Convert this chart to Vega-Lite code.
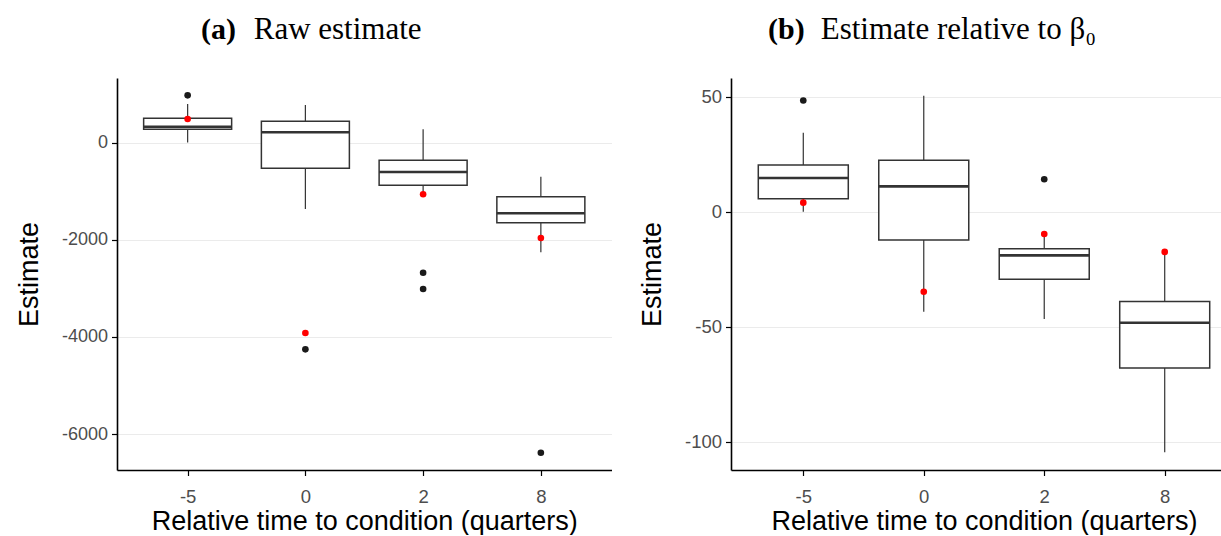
{
  "$schema": "https://vega.github.io/schema/vega-lite/v6.json",
  "background": "white",
  "padding": {"left": 15, "top": 14, "right": 0, "bottom": 0},
  "spacing": 26,
  "datasets": {
    "rawBox": [
      {"time": "-5", "lower": 0, "q1": 272, "median": 325, "q3": 498, "upper": 792},
      {"time": "0", "lower": -1369, "q1": -531, "median": 210, "q3": 436, "upper": 772},
      {"time": "2", "lower": -1039, "q1": -881, "median": -607, "q3": -366, "upper": 272},
      {"time": "8", "lower": -2260, "q1": -1651, "median": -1457, "q3": -1116, "upper": -704}
    ],
    "rawPts": [
      {"time": "-5", "kind": "outlier", "value": 971},
      {"time": "0", "kind": "outlier", "value": -4257},
      {"time": "2", "kind": "outlier", "value": -2680},
      {"time": "2", "kind": "outlier", "value": -3015},
      {"time": "8", "kind": "outlier", "value": -6385},
      {"time": "-5", "kind": "estimate", "value": 484},
      {"time": "0", "kind": "estimate", "value": -3921},
      {"time": "2", "kind": "estimate", "value": -1066},
      {"time": "8", "kind": "estimate", "value": -1965}
    ],
    "relBox": [
      {"time": "-5", "lower": 0, "q1": 5.65, "median": 14.65, "q3": 20.3, "upper": 34.3},
      {"time": "0", "lower": -43.5, "q1": -12.3, "median": 11.0, "q3": 22.3, "upper": 50.4},
      {"time": "2", "lower": -46.7, "q1": -29.4, "median": -19.0, "q3": -16.1, "upper": -10.5},
      {"time": "8", "lower": -104.6, "q1": -68.0, "median": -48.3, "q3": -39.0, "upper": -17.5}
    ],
    "relPts": [
      {"time": "-5", "kind": "outlier", "value": 48.3},
      {"time": "2", "kind": "outlier", "value": 14.1},
      {"time": "-5", "kind": "estimate", "value": 3.9},
      {"time": "0", "kind": "estimate", "value": -34.8},
      {"time": "2", "kind": "estimate", "value": -9.7},
      {"time": "8", "kind": "estimate", "value": -17.5}
    ]
  },
  "hconcat": [
    {
      "width": 494.5,
      "height": 392,
      "title": {
        "text": "(a)",
        "subtitle": "\u200b\u2003\u2002\u2009Raw estimate",
        "anchor": "start",
        "frame": "group",
        "dx": 84,
        "offset": 32,
        "font": "Liberation Serif",
        "fontSize": 30,
        "fontWeight": "bold",
        "color": "black",
        "subtitleFont": "Liberation Serif",
        "subtitleFontSize": 31,
        "subtitleFontWeight": "normal",
        "subtitleColor": "black",
        "subtitlePadding": -30
      },
      "layer": [
        {
          "data": {"name": "rawBox"},
          "mark": {"type": "rule", "color": "#333333", "strokeWidth": 1.2},
          "encoding": {
            "x": {"field": "time", "type": "ordinal", "sort": ["-5", "0", "2", "8"], "scale": {"type": "point", "padding": 0.6}, "title": "Relative time to condition (quarters)"},
            "y": {"field": "lower", "type": "quantitative", "scale": {"domain": [-6741, 1328], "nice": false, "zero": false}, "axis": {"values": [-6000, -4000, -2000, 0], "labelExpr": "toString(datum.value)", "labelFontSize": 18}, "title": "Estimate"},
            "y2": {"field": "upper"}
          }
        },
        {
          "data": {"name": "rawBox"},
          "mark": {"type": "bar", "size": 88, "fill": "white", "stroke": "#333333", "strokeWidth": 1.5},
          "encoding": {
            "x": {"field": "time", "type": "ordinal", "sort": ["-5", "0", "2", "8"], "title": "Relative time to condition (quarters)"},
            "y": {"field": "q1", "type": "quantitative", "title": "Estimate"},
            "y2": {"field": "q3"}
          }
        },
        {
          "data": {"name": "rawBox"},
          "mark": {"type": "tick", "size": 88, "thickness": 2.6, "color": "#333333", "opacity": 1},
          "encoding": {
            "x": {"field": "time", "type": "ordinal", "sort": ["-5", "0", "2", "8"], "title": "Relative time to condition (quarters)"},
            "y": {"field": "median", "type": "quantitative", "title": "Estimate"}
          }
        },
        {
          "data": {"name": "rawPts"},
          "mark": {"type": "circle", "size": 44, "opacity": 1},
          "encoding": {
            "x": {"field": "time", "type": "ordinal", "sort": ["-5", "0", "2", "8"], "title": "Relative time to condition (quarters)"},
            "y": {"field": "value", "type": "quantitative", "title": "Estimate"},
            "color": {"field": "kind", "type": "nominal", "scale": {"domain": ["outlier", "estimate"], "range": ["#1A1A1A", "#FF0000"]}, "legend": null}
          }
        }
      ]
    },
    {
      "width": 506,
      "height": 392,
      "title": {
        "text": "(b)",
        "subtitle": "\u200b\u2003\u2002\u2009Estimate relative to \u03b2\u2080",
        "anchor": "start",
        "frame": "group",
        "dx": 37,
        "offset": 32,
        "font": "Liberation Serif",
        "fontSize": 30,
        "fontWeight": "bold",
        "color": "black",
        "subtitleFont": "Liberation Serif",
        "subtitleFontSize": 31,
        "subtitleFontWeight": "normal",
        "subtitleColor": "black",
        "subtitlePadding": -30
      },
      "layer": [
        {
          "data": {"name": "relBox"},
          "mark": {"type": "rule", "color": "#333333", "strokeWidth": 1.2},
          "encoding": {
            "x": {"field": "time", "type": "ordinal", "sort": ["-5", "0", "2", "8"], "scale": {"type": "point", "padding": 0.6}, "title": "Relative time to condition (quarters)"},
            "y": {"field": "lower", "type": "quantitative", "scale": {"domain": [-112.3, 58.1], "nice": false, "zero": false}, "axis": {"values": [-100, -50, 0, 50], "labelExpr": "toString(datum.value)", "labelFontSize": 18.5}, "title": "Estimate"},
            "y2": {"field": "upper"}
          }
        },
        {
          "data": {"name": "relBox"},
          "mark": {"type": "bar", "size": 90, "fill": "white", "stroke": "#333333", "strokeWidth": 1.5},
          "encoding": {
            "x": {"field": "time", "type": "ordinal", "sort": ["-5", "0", "2", "8"], "title": "Relative time to condition (quarters)"},
            "y": {"field": "q1", "type": "quantitative", "title": "Estimate"},
            "y2": {"field": "q3"}
          }
        },
        {
          "data": {"name": "relBox"},
          "mark": {"type": "tick", "size": 90, "thickness": 2.6, "color": "#333333", "opacity": 1},
          "encoding": {
            "x": {"field": "time", "type": "ordinal", "sort": ["-5", "0", "2", "8"], "title": "Relative time to condition (quarters)"},
            "y": {"field": "median", "type": "quantitative", "title": "Estimate"}
          }
        },
        {
          "data": {"name": "relPts"},
          "mark": {"type": "circle", "size": 44, "opacity": 1},
          "encoding": {
            "x": {"field": "time", "type": "ordinal", "sort": ["-5", "0", "2", "8"], "title": "Relative time to condition (quarters)"},
            "y": {"field": "value", "type": "quantitative", "title": "Estimate"},
            "color": {"field": "kind", "type": "nominal", "scale": {"domain": ["outlier", "estimate"], "range": ["#1A1A1A", "#FF0000"]}, "legend": null}
          }
        }
      ]
    }
  ],
  "config": {
    "view": {"stroke": null},
    "font": "Liberation Sans",
    "axis": {
      "domainColor": "black",
      "domainWidth": 1.6,
      "tickColor": "black",
      "tickWidth": 1.2,
      "tickSize": 5.5,
      "labelColor": "#4D4D4D",
      "labelFont": "Liberation Sans",
      "titleFont": "Liberation Sans",
      "titleColor": "black",
      "titleFontSize": 27,
      "titleFontWeight": "normal"
    },
    "axisY": {
      "grid": true,
      "gridColor": "#EBEBEB",
      "gridWidth": 1,
      "labelPadding": 4,
      "titlePadding": 18
    },
    "axisX": {
      "grid": false,
      "labelAngle": 0,
      "labelFontSize": 18.5,
      "labelPadding": 12,
      "titlePadding": 2.5
    }
  }
}
